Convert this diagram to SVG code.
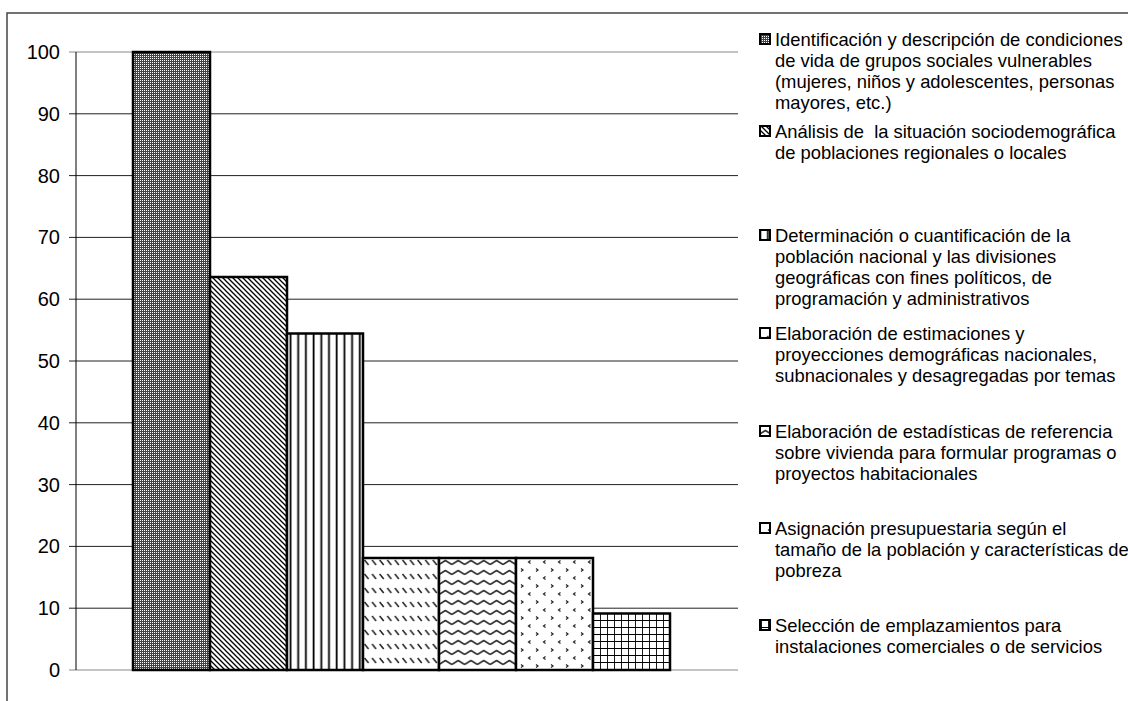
<svg xmlns="http://www.w3.org/2000/svg" width="1128" height="701" viewBox="0 0 1128 701">
<style>
.ax{font-family:"Liberation Sans",Arial,sans-serif;font-size:20px;fill:#000;text-anchor:end}
.lg{font-family:"Liberation Sans",Arial,sans-serif;font-size:18.4px;fill:#000;white-space:pre}
.grid{stroke:#222;stroke-width:1}
.bar{stroke:#000;stroke-width:2.5}
.ico{stroke:#000;stroke-width:2}
</style>
<defs>
<pattern id="p1" width="2" height="2" patternUnits="userSpaceOnUse"><rect width="2" height="2" fill="#444"/><rect width="1" height="1" fill="#fff"/></pattern>
<pattern id="p2" width="5" height="5" patternUnits="userSpaceOnUse"><rect width="5" height="5" fill="#fff"/><path d="M0,0L5,5M-1,4L1,6M4,-1L6,1" stroke="#000" stroke-width="1.3"/></pattern>
<pattern id="p3" width="7.7" height="10" patternUnits="userSpaceOnUse" x="287"><rect width="7.7" height="10" fill="#fff"/><path d="M3.5,0V10" stroke="#000" stroke-width="1.8"/></pattern>
<pattern id="p4" width="7.6" height="14" patternUnits="userSpaceOnUse" x="363" y="558"><rect width="7.6" height="14" fill="#fff"/><path d="M1.5,2L5.5,7" stroke="#222" stroke-width="1.5"/></pattern>
<pattern id="p5" width="12.8" height="10" patternUnits="userSpaceOnUse" x="439" y="558"><rect width="12.8" height="10" fill="#fff"/><path d="M0,6.5L6.4,2.5L12.8,6.5" fill="none" stroke="#333" stroke-width="1.6" stroke-linejoin="round"/></pattern>
<pattern id="p6" width="15" height="16" patternUnits="userSpaceOnUse" x="516" y="558"><rect width="15" height="16" fill="#fff"/><path d="M14.5,2.5L12.5,4L14.5,5.5M5,10.5L7,12L5,13.5" fill="none" stroke="#222" stroke-width="1.2"/></pattern>
<pattern id="p7" width="7" height="7" patternUnits="userSpaceOnUse" x="593" y="613"><rect width="7" height="7" fill="#fff"/><path d="M0,0H7M0,0V7" stroke="#000" stroke-width="1.8"/></pattern>
</defs>

<g id="frame" fill="none" stroke="#444" stroke-width="1.5">
<path d="M7,701V13H1128"/>
</g>

<g id="axes">
<g class="grid">
<line x1="69" y1="52" x2="738" y2="52" stroke="#888"/>
<line x1="69" y1="113.8" x2="738" y2="113.8"/>
<line x1="69" y1="175.6" x2="738" y2="175.6"/>
<line x1="69" y1="237.4" x2="738" y2="237.4"/>
<line x1="69" y1="299.2" x2="738" y2="299.2"/>
<line x1="69" y1="361" x2="738" y2="361"/>
<line x1="69" y1="422.8" x2="738" y2="422.8"/>
<line x1="69" y1="484.6" x2="738" y2="484.6"/>
<line x1="69" y1="546.4" x2="738" y2="546.4"/>
<line x1="69" y1="608.2" x2="738" y2="608.2"/>
<line x1="69" y1="670" x2="738" y2="670" stroke="#888"/>
<line x1="76" y1="52" x2="76" y2="670" stroke="#000"/>
</g>
<text class="ax" x="60" y="59">100</text>
<text class="ax" x="60" y="120.8">90</text>
<text class="ax" x="60" y="182.6">80</text>
<text class="ax" x="60" y="244.4">70</text>
<text class="ax" x="60" y="306.2">60</text>
<text class="ax" x="60" y="368">50</text>
<text class="ax" x="60" y="429.8">40</text>
<text class="ax" x="60" y="491.6">30</text>
<text class="ax" x="60" y="553.4">20</text>
<text class="ax" x="60" y="615.2">10</text>
<text class="ax" x="60" y="677">0</text>
</g>

<g id="bars">
<rect id="bar1" class="bar" x="133" y="52" width="77" height="618" fill="url(#p1)"/>
<rect id="bar2" class="bar" x="210" y="277" width="77" height="393" fill="url(#p2)"/>
<rect id="bar3" class="bar" x="287" y="333.5" width="76" height="336.5" fill="url(#p3)"/>
<rect id="bar4" class="bar" x="363" y="558" width="76" height="112" fill="url(#p4)"/>
<rect id="bar5" class="bar" x="439" y="558" width="77" height="112" fill="url(#p5)"/>
<rect id="bar6" class="bar" x="516" y="558" width="77" height="112" fill="url(#p6)"/>
<rect id="bar7" class="bar" x="593" y="613.5" width="77" height="56.5" fill="url(#p7)"/>
</g>

<g id="legend">
<g id="leg1">
<rect class="ico" x="760" y="34" width="10" height="10" fill="url(#p1)"/>
<text class="lg" x="775" y="46">Identificación y descripción de condiciones</text>
<text class="lg" x="775" y="67">de vida de grupos sociales vulnerables</text>
<text class="lg" x="775" y="88">(mujeres, niños y adolescentes, personas</text>
<text class="lg" x="775" y="109">mayores, etc.)</text>
</g>
<g id="leg2">
<rect class="ico" x="760" y="126" width="10" height="10" fill="url(#p2)"/>
<text class="lg" x="775" y="138" xml:space="preserve">Análisis de  la situación sociodemográfica</text>
<text class="lg" x="775" y="159">de poblaciones regionales o locales</text>
</g>
<g id="leg3">
<rect class="ico" x="760" y="230" width="10" height="10" fill="url(#p3)"/>
<text class="lg" x="775" y="242">Determinación o cuantificación de la</text>
<text class="lg" x="775" y="263">población nacional y las divisiones</text>
<text class="lg" x="775" y="284">geográficas con fines políticos, de</text>
<text class="lg" x="775" y="305">programación y administrativos</text>
</g>
<g id="leg4">
<rect class="ico" x="760" y="328" width="10" height="10" fill="url(#p4)"/>
<text class="lg" x="775" y="340">Elaboración de estimaciones y</text>
<text class="lg" x="775" y="361">proyecciones demográficas nacionales,</text>
<text class="lg" x="775" y="382">subnacionales y desagregadas por temas</text>
</g>
<g id="leg5">
<rect class="ico" x="760" y="426" width="10" height="10" fill="url(#p5)"/>
<text class="lg" x="775" y="438">Elaboración de estadísticas de referencia</text>
<text class="lg" x="775" y="459">sobre vivienda para formular programas o</text>
<text class="lg" x="775" y="480">proyectos habitacionales</text>
</g>
<g id="leg6">
<rect class="ico" x="760" y="523" width="10" height="10" fill="url(#p6)"/>
<text class="lg" x="775" y="535">Asignación presupuestaria según el</text>
<text class="lg" x="775" y="556">tamaño de la población y características de</text>
<text class="lg" x="775" y="577">pobreza</text>
</g>
<g id="leg7">
<rect class="ico" x="760" y="620" width="10" height="10" fill="url(#p7)"/>
<text class="lg" x="775" y="632">Selección de emplazamientos para</text>
<text class="lg" x="775" y="653">instalaciones comerciales o de servicios</text>
</g>
</g>
</svg>
